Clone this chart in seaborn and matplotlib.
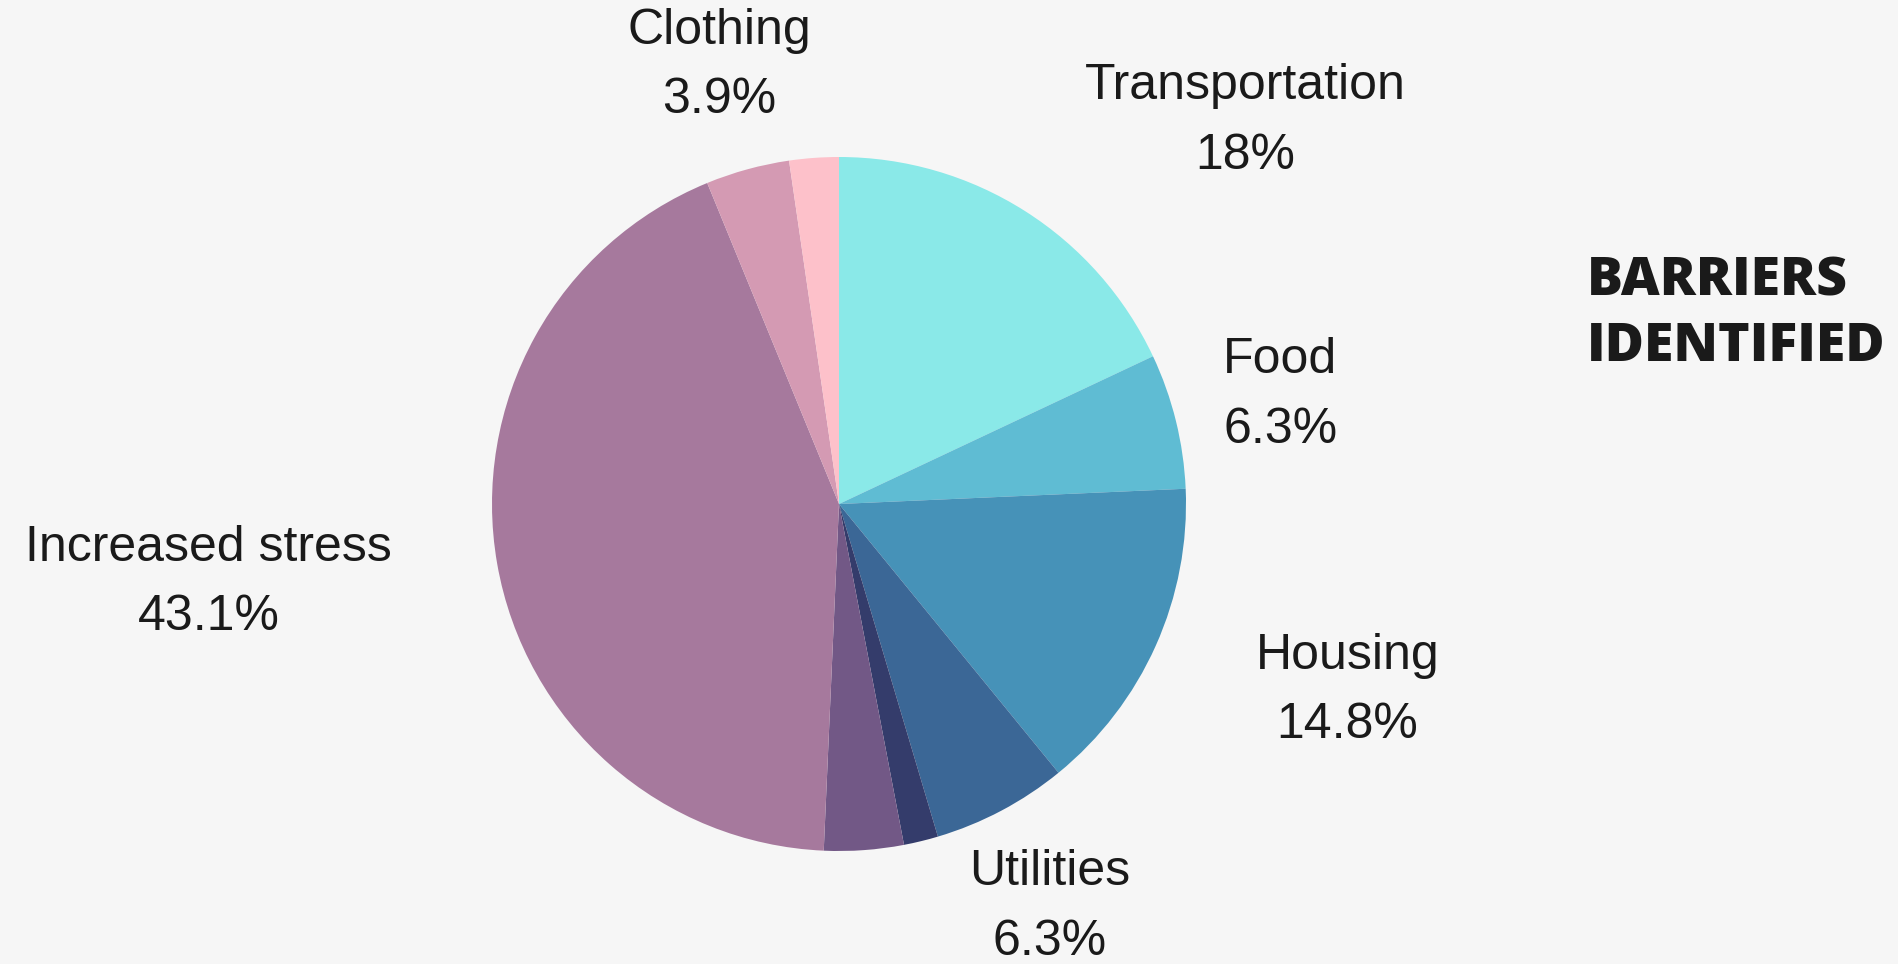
import numpy as np
import matplotlib
matplotlib.use("Agg")
import matplotlib.pyplot as plt
import seaborn as sns

# ==============================================================
# DATA
# ==============================================================
categories = ["Transportation", "Food", "Housing", "Utilities", "",
              "", "Increased stress", "Clothing", ""]
shares = [18.0, 6.3, 14.8, 6.3, 1.6, 3.7, 43.1, 3.9, 2.3]
share_labels = ["18%", "6.3%", "14.8%", "6.3%", "", "", "43.1%", "3.9%", ""]
slice_colors = ["#8AE9E8", "#5FBCD3", "#4692B8", "#3B6796", "#343C6B",
                "#725886", "#A6799D", "#D49AB3", "#FDC1CA"]

# label placement: extra turn from the slice middle (deg) and distance (radii)
label_turn = [14.3, 0.0, -4.0, 0.3, 0, 0, 2.8, 0.0, 0]
label_dist = [1.61, 1.31, 1.56, 1.31, 1.3, 1.3, 1.83, 1.31, 1.3]

# ==============================================================
# CONFIG
# ==============================================================
sns.set_theme(style="white")
plt.rcParams["font.family"] = ["Liberation Sans", "DejaVu Sans"]
BG = "#F6F6F6"
INK = "#1A1A1A"

W, H = 1898, 964
fig = plt.figure(figsize=(W / 100, H / 100), dpi=100, facecolor=BG)

cx, cy, r = 839, 504, 347
ax = fig.add_axes([(cx - r) / W, (H - cy - r) / H, 2 * r / W, 2 * r / H])
ax.set_facecolor(BG)

palette = sns.color_palette(slice_colors)
wedges, _ = ax.pie(shares, colors=palette, startangle=90, counterclock=False,
                   radius=1, wedgeprops=dict(linewidth=0))
ax.set_xlim(-1, 1)
ax.set_ylim(-1, 1)
ax.set_aspect("equal")
ax.axis("off")

total = sum(shares)
cum = 0.0
for name, val, pct, turn, dist in zip(categories, shares, share_labels,
                                      label_turn, label_dist):
    mid = (cum + val / 2) / total * 2 * np.pi + np.radians(turn)
    cum += val
    if not name:
        continue
    x = dist * np.sin(mid)
    y = dist * np.cos(mid)
    ax.text(x, y, f"{name}\n{pct}", ha="center", va="center",
            fontsize=36, color=INK, linespacing=1.65, clip_on=False)

fig.text(1587 / W, 1 - 315 / H, "BARRIERS\nIDENTIFIED", ha="left", va="center",
         fontsize=38.5, fontweight="heavy", family=["Open Sans", "Lato", "DejaVu Sans"],
         color=INK, linespacing=1.32)

fig.savefig("out.png", dpi=100, facecolor=BG)
